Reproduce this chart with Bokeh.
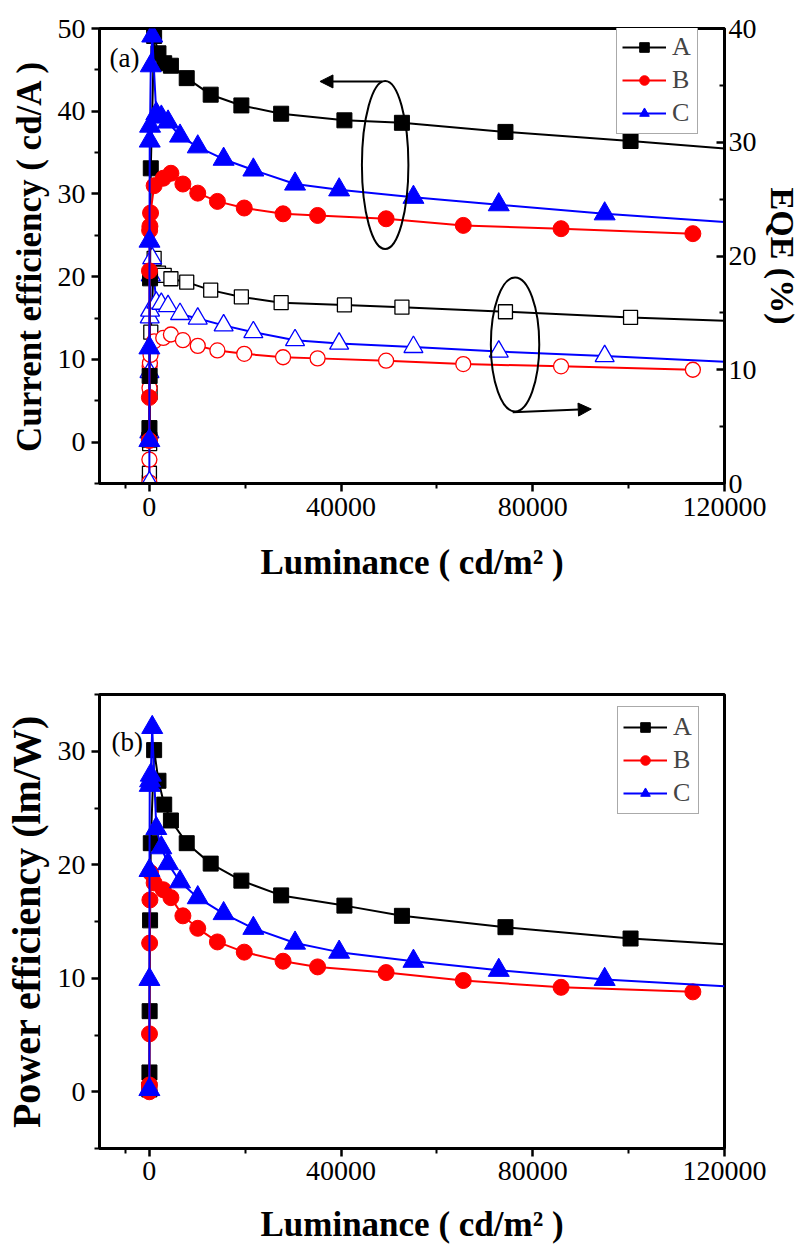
from bokeh.plotting import figure
from bokeh.models import (Range1d, LinearAxis, FixedTicker, Legend, LegendItem,
                          Arrow, NormalHead, Label, NumeralTickFormatter)
from bokeh.layouts import column
from bokeh.embed import file_html
from bokeh.resources import INLINE

FONT = "Liberation Serif"

# ---------------- data ----------------
A_L = [5, 20, 60, 150, 300, 1000, 1900, 3100, 4500, 7800, 12800, 19200, 27500, 40700, 52700, 74300, 100400]
A_CE = [0.3, 1.7, 8.0, 19.8, 33.1, 49.1, 47.0, 45.8, 45.5, 44.0, 42.0, 40.7, 39.7, 38.9, 38.6, 37.5, 36.4]
A_EQE = [0.1, 0.9, 3.5, 8.0, 13.3, 19.8, 18.5, 18.3, 18.0, 17.7, 17.0, 16.4, 15.9, 15.7, 15.5, 15.1, 14.6]
A_PE = [0.2, 1.7, 7.1, 15.1, 21.9, 30.1, 27.4, 25.3, 23.9, 21.9, 20.1, 18.6, 17.3, 16.4, 15.5, 14.5, 13.5]

B_L = [3, 10, 30, 60, 120, 250, 1000, 2900, 4500, 7000, 10100, 14200, 19800, 27900, 35100, 49400, 65500, 85900, 113400]
B_CE = [0.2, 5.4, 20.7, 25.6, 26.1, 27.7, 31.0, 31.9, 32.5, 31.2, 30.1, 29.1, 28.3, 27.6, 27.4, 27.0, 26.2, 25.8, 25.2]
B_EQE = [0.1, 2.1, 8.4, 10.3, 10.6, 11.3, 12.5, 12.8, 13.1, 12.6, 12.1, 11.7, 11.4, 11.1, 11.0, 10.8, 10.5, 10.3, 10.0]
B_PE = [0.0, 0.6, 5.1, 13.1, 16.9, 19.3, 18.4, 17.8, 17.1, 15.5, 14.4, 13.2, 12.3, 11.5, 11.0, 10.5, 9.8, 9.2, 8.8]

C_L = [3, 10, 30, 80, 150, 300, 600, 1450, 2500, 3900, 6400, 10100, 15500, 21700, 30400, 39600, 55100, 72900, 95000]
C_CE = [0.2, 11.4, 24.3, 36.4, 38.2, 45.5, 49.1, 39.7, 39.3, 38.7, 37.0, 35.7, 34.2, 32.9, 31.2, 30.5, 29.6, 28.7, 27.6]
C_EQE = [0.1, 4.5, 9.8, 14.6, 15.2, 18.3, 19.8, 15.9, 15.8, 15.6, 14.9, 14.5, 13.9, 13.3, 12.6, 12.3, 12.0, 11.6, 11.2]
C_PE = [0.2, 9.9, 19.5, 27.0, 27.4, 27.9, 32.1, 23.2, 21.5, 20.1, 18.5, 17.1, 15.7, 14.4, 13.1, 12.3, 11.5, 10.7, 9.9]

# fitted curves of A and C continue to the right edge of the frame
X_END = 120000
A_CE_END, C_CE_END = 35.5, 26.6
A_EQE_END, C_EQE_END = 14.3, 10.7
A_PE_END, C_PE_END = 13.0, 9.3

X_TICKS = [0, 40000, 80000, 120000]
X_MINOR = [-5000, 20000, 60000, 100000]
SERIES = ["A", "B", "C"]
COLORS = ["black", "red", "blue"]
MARKERS = ["square", "circle", "triangle"]
SIZES = [15, 16, 21]
OPEN_SIZES = [14, 15, 19]


def style_axis(ax, label, label_size="35px", inward=False):
    ax.axis_label = label
    ax.axis_line_width = 3
    ax.axis_line_color = "black"
    ax.major_tick_line_width = 2.5
    ax.minor_tick_line_width = 2
    if inward:
        ax.major_tick_in, ax.major_tick_out = 8, 0
        ax.minor_tick_in, ax.minor_tick_out = 5, 0
    else:
        ax.major_tick_in, ax.major_tick_out = 0, 8
        ax.minor_tick_in, ax.minor_tick_out = 0, 5
    ax.major_label_text_font = FONT
    ax.major_label_text_font_size = "28px"
    ax.major_label_text_color = "black"
    ax.axis_label_text_font = FONT
    ax.axis_label_text_font_style = "bold"
    ax.axis_label_text_font_size = label_size
    ax.axis_label_text_color = "black"


def base_figure(height, y0, y1, top, bottom, ylabel, ylabel_size, tick_so, label_so):
    p = figure(width=803, height=height, x_range=Range1d(-10400, 120000),
               y_range=Range1d(y0, y1), output_backend="svg", toolbar_location=None,
               min_border_left=98, min_border_right=76, min_border_top=top,
               min_border_bottom=bottom)
    p.grid.visible = False
    p.outline_line_color = "black"
    p.outline_line_width = 3
    p.background_fill_color = "white"
    p.border_fill_color = "white"
    p.xaxis.ticker = FixedTicker(ticks=X_TICKS, minor_ticks=X_MINOR)
    p.xaxis.formatter = NumeralTickFormatter(format="0")
    style_axis(p.xaxis[0], "Luminance ( cd/m² )")
    p.xaxis[0].major_label_standoff = tick_so
    p.xaxis[0].axis_label_standoff = label_so
    style_axis(p.yaxis[0], ylabel, label_size=ylabel_size)
    p.yaxis[0].axis_label_standoff = 6
    p.yaxis[0].major_label_standoff = 6
    return p


def add_series(p, xs, ys, x_end, y_end, color, marker, size, open_marker=False, y_range_name="default"):
    lx = list(xs) + ([x_end] if y_end is not None else [])
    ly = list(ys) + ([y_end] if y_end is not None else [])
    r_line = p.line(lx, ly, line_color=color, line_width=2, y_range_name=y_range_name)
    if open_marker:
        r_m = p.scatter(xs, ys, marker=marker, size=size, fill_color="white",
                        line_color=color, line_width=1.3, y_range_name=y_range_name)
    else:
        r_m = p.scatter(xs, ys, marker=marker, size=size, fill_color=color,
                        line_color=color, y_range_name=y_range_name)
    return [r_line, r_m]


def add_legend(p, items, loc):
    leg = Legend(items=[LegendItem(label=n, renderers=r) for n, r in items], location=loc)
    leg.label_text_font = FONT
    leg.label_text_font_size = "26px"
    leg.glyph_width = 44
    leg.glyph_height = 24
    leg.label_standoff = 6
    leg.spacing = 3
    leg.padding = 5
    leg.margin = 0
    leg.border_line_color = "#555555"
    leg.border_line_width = 1
    leg.background_fill_alpha = 1
    p.add_layout(leg)


# ---------------- panel (a) ----------------
p1 = base_figure(640, -5, 50, 28, 157, "Current efficiency ( cd/A )", "35px", 6, 24)
p1.yaxis[0].ticker = FixedTicker(ticks=[0, 10, 20, 30, 40, 50], minor_ticks=[-5, 5, 15, 25, 35, 45])
p1.extra_y_ranges = {"eqe": Range1d(0, 40)}
ax_r = LinearAxis(y_range_name="eqe")
ax_r.ticker = FixedTicker(ticks=[0, 10, 20, 30, 40], minor_ticks=[5, 15, 25, 35])
style_axis(ax_r, "EQE (%)", label_size="34px", inward=True)
ax_r.axis_label_standoff = 4
ax_r.major_label_standoff = 4
p1.add_layout(ax_r, "right")

ce = [(A_L, A_CE, A_CE_END, A_EQE, A_EQE_END),
      (B_L, B_CE, None, B_EQE, None),
      (C_L, C_CE, C_CE_END, C_EQE, C_EQE_END)]
items1 = []
for (L, cev, ce_end, eqe, eqe_end), col, mk, sz in zip(ce, COLORS, MARKERS, OPEN_SIZES):
    add_series(p1, L, eqe, X_END, eqe_end, col, mk, sz, open_marker=True, y_range_name="eqe")
for (L, cev, ce_end, eqe, eqe_end), name, col, mk, sz in zip(ce, SERIES, COLORS, MARKERS, SIZES):
    rs = add_series(p1, L, cev, X_END, ce_end, col, mk, sz)
    items1.append((name, rs))
add_legend(p1, items1, (517, 349))

# ellipses and arrows
p1.ellipse(x=[49200], y=[33.5], width=9700, height=20.3, fill_color=None,
           line_color="black", line_width=2)
p1.ellipse(x=[76300], y=[11.8], width=10100, height=16.2, fill_color=None,
           line_color="black", line_width=2)
p1.add_layout(Arrow(end=NormalHead(size=13, fill_color="black", line_color="black"),
                    x_start=48600, y_start=43.6, x_end=35600, y_end=43.6,
                    line_width=2, line_color="black"))
p1.add_layout(Arrow(end=NormalHead(size=13, fill_color="black", line_color="black"),
                    x_start=75800, y_start=3.6, x_end=92200, y_end=4.0,
                    line_width=2, line_color="black"))
p1.add_layout(Label(x=-8300, y=46.4, text="(a)", text_font=FONT, text_font_size="27px",
                    text_baseline="middle", text_color="black"))

# ---------------- panel (b) ----------------
p2 = base_figure(606, -5, 35, 54, 98, "Power efficiency (lm/W)", "40px", 5, 22)
p2.yaxis[0].ticker = FixedTicker(ticks=[0, 10, 20, 30], minor_ticks=[-5, 5, 15, 25, 35])
pe = [(A_L, A_PE, A_PE_END), (B_L, B_PE, None), (C_L, C_PE, C_PE_END)]
items2 = []
for (L, v, v_end), name, col, mk, sz in zip(pe, SERIES, COLORS, MARKERS, SIZES):
    rs = add_series(p2, L, v, X_END, v_end, col, mk, sz)
    items2.append((name, rs))
add_legend(p2, items2, (518, 334))
p2.add_layout(Label(x=-7900, y=30.8, text="(b)", text_font=FONT, text_font_size="27px",
                    text_baseline="middle", text_color="black"))

layout = column(p1, p2)
open("out.html", "w").write(file_html(layout, INLINE))
